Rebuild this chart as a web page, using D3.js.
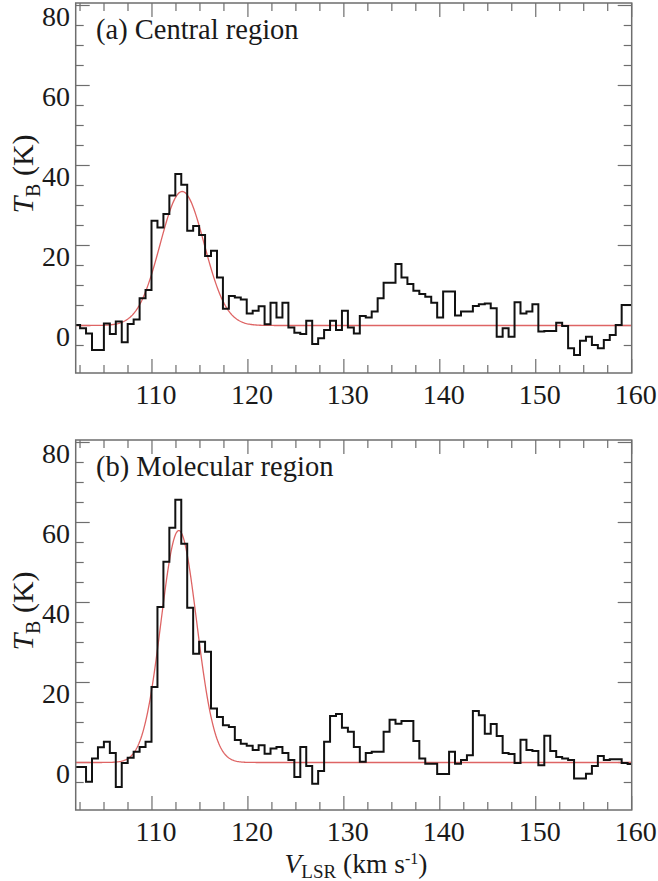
<!DOCTYPE html>
<html>
  <head>
    <meta charset="utf-8">
    <title>HI spectra</title>
    <script src="https://cdn.jsdelivr.net/npm/d3@7"></script>
    <style>
      body { margin: 0; background: #fff; }
    </style>
  </head>
  <body>
    <svg width="658" height="881" id="mainsvg"></svg>
    <script>
      // velocity channels: left edge of first channel and channel width (km/s)
      const chanStart = 101.887;
      const chanWidth = 0.6203;

      // brightness temperature per channel (K)
      const tbCentral = [
        0.1, -0.7, -2.0, -6.1, -6.1, 0.5, -2.1, 1.0, -4.2, 0.4, 1.5, 6.8, 8.9,
        26.2, 24.5, 27.9, 32.5, 37.9, 35.2, 23.7, 24.9, 22.6, 17.4, 18.7, 12.0,
        4.2, 7.4, 7.0, 6.5, 3.0, 3.7, 4.8, 0.3, 5.7, 2.0, 5.7, -0.5, -1.8, -2.1,
        1.2, -4.6, -3.2, -1.1, 1.2, -1.1, 3.7, -0.5, -2.0, 2.4, 2.0, 3.5, 6.8,
        10.7, 10.7, 15.4, 12.0, 10.4, 8.7, 7.9, 7.2, 5.7, 2.0, 8.5, 8.5, 2.5,
        3.5, 3.5, 4.9, 5.3, 5.5, 4.3, -2.8, -0.7, -2.8, 5.8, 3.0, 3.5, 5.3,
        -1.5, -1.4, -1.4, 0.7, -0.1, -5.7, -7.4, -3.8, -2.8, -4.9, -5.7, -3.6,
        -2.4, 0.1, 5.1, 5.1
      ];
      const tbMolecular = [
        -1.1, -1.1, -4.8, 1.0, 3.8, 5.2, 2.4, -6.1, -0.1, 1.2, 2.7, 3.9, 5.2,
        18.9, 38.9, 50.2, 58.7, 65.7, 54.7, 38.7, 27.2, 30.2, 27.7, 13.5, 11.4,
        9.3, 8.9, 5.6, 4.7, 4.2, 3.1, 4.3, 2.2, 3.5, 3.9, 2.4, 0.6, -3.6, 3.9,
        -0.9, -5.3, -2.1, 5.2, 11.6, 12.1, 8.7, 7.7, 3.9, 0.2, 2.4, 2.7, 2.7,
        7.7, 10.7, 9.7, 10.4, 10.4, 5.4, 1.0, -0.3, -0.3, -2.9, -2.9, 2.7, -0.3,
        0.6, 1.8, 12.9, 11.8, 7.2, 9.6, 6.6, 2.4, 2.1, -0.1, 5.7, 3.1, 2.9,
        -0.7, 6.7, 2.9, 1.4, 1.0, 0.6, -4.0, -4.0, -2.8, -0.9, 1.6, 0.6, 0.8,
        0.8, -0.1, -0.4
      ];

      // gaussian fits: [amplitude K, centre km/s, sigma km/s]
      const fitCentral = [33.5, 113.15, 2.3];
      const fitMolecular = [58, 112.8, 1.86];

      const xTickLabels = [110, 120, 130, 140, 150, 160];
      const yTickLabels = [0, 20, 40, 60, 80];

      const serif = "'Liberation Serif', 'Times New Roman', 'DejaVu Serif', serif";
      const svg = d3.select('#mainsvg')
        .attr('font-family', serif);
      const frameLeft = 75.7, frameRight = 631.7, frameH = 370;

      const x = d3.scaleLinear().domain([102.05, 160]).range([frameLeft, frameRight]);

      const panels = [
        {label: '(a)', name: 'Central region', tb: tbCentral, fit: fitCentral, top: 3},
        {label: '(b)', name: 'Molecular region', tb: tbMolecular, fit: fitMolecular, top: 440}
      ];

      const gauss = (v, p) => p[0] * Math.exp(-0.5 * Math.pow((v - p[1]) / p[2], 2));
      const frameCol = '#6e6e6e';
      const txtCol = '#1a1a1a';

      panels.forEach((p, i) => {
        const y = d3.scaleLinear().domain([-11.875, 80.625]).range([p.top + frameH, p.top]);
        const g = svg.append('g');

        g.append('clipPath').attr('id', 'clip' + i)
          .append('rect').attr('x', frameLeft).attr('y', p.top)
          .attr('width', frameRight - frameLeft).attr('height', frameH);

        // ticks on all four sides
        const vTicks = d3.range(102.5, 160.01, 2.5);
        const tTicks = d3.range(-5, 80.1, 5);
        const isMajV = v => Math.abs(v % 10) < 1e-6;
        const isMajT = t => t % 20 === 0;
        const tickLen = maj => maj ? 14 : 8;

        g.selectAll('.tb').data(vTicks).join('line')
          .attr('x1', d => x(d)).attr('x2', d => x(d))
          .attr('y1', p.top + frameH).attr('y2', d => p.top + frameH - tickLen(isMajV(d)))
          .attr('stroke', frameCol).attr('stroke-width', 1.2);
        g.selectAll('.tt').data(vTicks).join('line')
          .attr('x1', d => x(d)).attr('x2', d => x(d))
          .attr('y1', p.top).attr('y2', d => p.top + tickLen(isMajV(d)))
          .attr('stroke', frameCol).attr('stroke-width', 1.2);
        g.selectAll('.tl').data(tTicks).join('line')
          .attr('x1', frameLeft).attr('x2', d => frameLeft + tickLen(isMajT(d)))
          .attr('y1', d => y(d)).attr('y2', d => y(d))
          .attr('stroke', frameCol).attr('stroke-width', 1.2);
        g.selectAll('.tr').data(tTicks).join('line')
          .attr('x1', frameRight).attr('x2', d => frameRight - tickLen(isMajT(d)))
          .attr('y1', d => y(d)).attr('y2', d => y(d))
          .attr('stroke', frameCol).attr('stroke-width', 1.2);

        // gaussian fit
        const fitPts = d3.range(102.05, 160.001, 0.1).map(v => [v, gauss(v, p.fit)]);
        g.append('path').datum(fitPts)
          .attr('clip-path', `url(#clip${i})`)
          .attr('fill', 'none').attr('stroke', '#de6464').attr('stroke-width', 1.3)
          .attr('d', d3.line().x(d => x(d[0])).y(d => y(d[1])));

        // spectrum as histogram steps
        const steps = [];
        p.tb.forEach((t, k) => {
          const v0 = chanStart + k * chanWidth;
          steps.push([v0, t], [v0 + chanWidth, t]);
        });
        g.append('path').datum(steps)
          .attr('clip-path', `url(#clip${i})`)
          .attr('fill', 'none').attr('stroke', '#111').attr('stroke-width', 2)
          .attr('stroke-linejoin', 'miter')
          .attr('d', d3.line().x(d => x(d[0])).y(d => y(d[1])));

        // frame
        g.append('rect').attr('x', frameLeft).attr('y', p.top)
          .attr('width', frameRight - frameLeft).attr('height', frameH)
          .attr('fill', 'none').attr('stroke', frameCol).attr('stroke-width', 1.5);

        // y tick labels
        g.selectAll('.yl').data(yTickLabels).join('text')
          .attr('x', 70).attr('y', d => y(d) + 11).attr('dy', '0.35em')
          .attr('text-anchor', 'end').attr('font-size', 28).attr('fill', txtCol)
          .text(d => d);

        // x tick labels
        g.selectAll('.xl').data(xTickLabels).join('text')
          .attr('x', d => x(d) + 4).attr('y', p.top + frameH + 31)
          .attr('text-anchor', 'middle').attr('font-size', 28).attr('fill', txtCol)
          .text(d => d);

        // panel title
        g.append('text').attr('x', 96).attr('y', p.top + 36).attr('font-size', 28.5)
          .attr('fill', txtCol)
          .text(p.label + ' ' + p.name);

        // y axis title
        const yt = g.append('text')
          .attr('transform', `translate(33, ${p.top + 171}) rotate(-90)`)
          .attr('text-anchor', 'middle').attr('font-size', 30).attr('fill', txtCol);
        yt.append('tspan').attr('font-style', 'italic').text('T');
        yt.append('tspan').attr('font-size', 20).attr('dy', 7).text('B');
        yt.append('tspan').attr('dy', -7).text(' (K)');
      });

      // x axis title
      const xt = svg.append('text').attr('x', 356).attr('y', 873)
        .attr('text-anchor', 'middle').attr('font-size', 27.5).attr('fill', txtCol);
      xt.append('tspan').attr('font-style', 'italic').text('V');
      xt.append('tspan').attr('font-size', 19).attr('dy', 5).text('LSR');
      xt.append('tspan').attr('dy', -5).text(' (km s');
      xt.append('tspan').attr('font-size', 16).attr('dy', -9).text('-1');
      xt.append('tspan').attr('dy', 9).text(')');
    </script>
  </body>
</html>
